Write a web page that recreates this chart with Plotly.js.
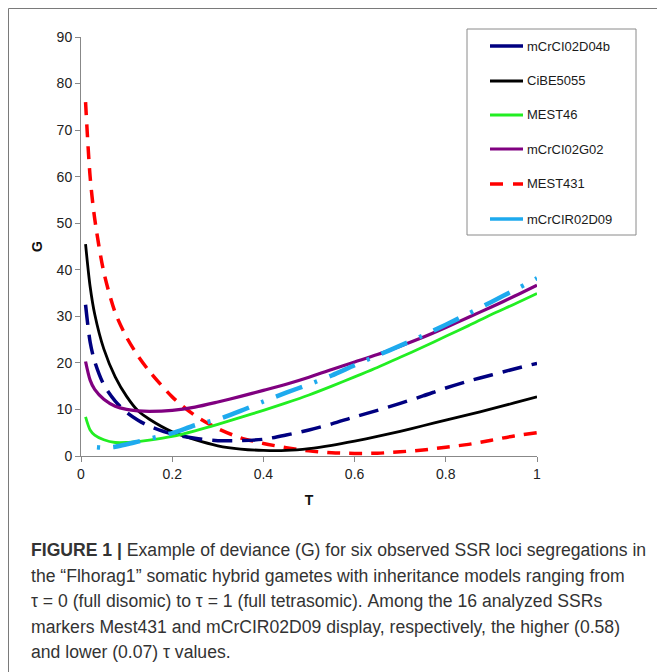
<!DOCTYPE html>
<html>
<head>
<meta charset="utf-8">
<script src="https://cdn.plot.ly/plotly-3.0.1.min.js"></script>
<style>html,body{margin:0;padding:0;background:#fff;}#chart{width:657px;height:672px;}</style>
</head>
<body>
<div id="chart"></div>
<script>
// ---- data ----
var tau = [0.01, 0.02, 0.03, 0.05, 0.075, 0.1, 0.125, 0.15, 0.2, 0.25, 0.3, 0.35, 0.4, 0.45, 0.5, 0.55, 0.6, 0.65, 0.7, 0.75, 0.8, 0.85, 0.9, 0.95, 1.0];
var mCrCI02D04b = [32.5, 24.5, 20.3, 15.3, 11.8, 9.4, 7.7, 6.4, 4.7, 3.8, 3.3, 3.3, 3.6, 4.5, 5.6, 6.9, 8.4, 9.8, 11.3, 12.9, 14.6, 16.1, 17.4, 18.7, 19.9];
var CiBE5055    = [45.5, 36.4, 30.5, 23.0, 17.0, 12.8, 9.7, 7.9, 5.2, 3.5, 2.2, 1.5, 1.2, 1.2, 1.6, 2.3, 3.2, 4.2, 5.3, 6.5, 7.7, 8.9, 10.1, 11.4, 12.7];
var MEST46      = [8.4, 5.6, 4.5, 3.5, 2.9, 2.9, 3.1, 3.4, 4.2, 5.4, 6.8, 8.3, 9.8, 11.4, 13.1, 15.0, 17.0, 19.0, 21.2, 23.4, 25.7, 28.0, 30.4, 32.6, 34.9];
var mCrCI02G02  = [20.3, 16.3, 14.3, 12.2, 10.7, 10.0, 9.7, 9.6, 9.8, 10.5, 11.6, 12.8, 14.1, 15.4, 16.9, 18.6, 20.2, 21.8, 23.6, 25.5, 27.6, 29.8, 32.0, 34.3, 36.7];
var MEST431     = [76.0, 60.0, 51.0, 39.5, 30.8, 25.5, 21.5, 18.2, 12.7, 8.7, 5.9, 3.9, 2.7, 1.8, 1.1, 0.7, 0.55, 0.6, 0.9, 1.3, 1.9, 2.5, 3.4, 4.3, 5.0];
var tauD09      = [0.035, 0.05, 0.075, 0.1, 0.125, 0.15, 0.2, 0.25, 0.3, 0.35, 0.4, 0.45, 0.5, 0.55, 0.6, 0.65, 0.7, 0.75, 0.8, 0.85, 0.9, 0.95, 1.0];
var mCrCIR02D09 = [1.9, 1.8, 2.0, 2.5, 3.1, 3.7, 4.9, 6.6, 7.9, 9.7, 11.7, 13.6, 15.4, 17.3, 19.5, 21.6, 23.7, 25.9, 28.2, 30.6, 33.1, 35.6, 38.2];
var seriesNames = ["mCrCI02D04b", "CiBE5055", "MEST46", "mCrCI02G02", "MEST431", "mCrCIR02D09"];
var xTickVals = [0, 0.2, 0.4, 0.6, 0.8, 1];
var xTickText = ["0", "0.2", "0.4", "0.6", "0.8", "1"];
var yTickVals = [0, 10, 20, 30, 40, 50, 60, 70, 80, 90];
var captionLines = [
  "<b>FIGURE 1 |</b> Example of deviance (G) for six observed SSR loci segregations in",
  "the \u201cFlhorag1\u201d somatic hybrid gametes with inheritance models ranging from",
  "\u03c4 = 0 (full disomic) to \u03c4 = 1 (full tetrasomic). Among the 16 analyzed SSRs",
  "markers Mest431 and mCrCIR02D09 display, respectively, the higher (0.58)",
  "and lower (0.07) \u03c4 values."
];

// ---- styles ----
var styles = [
  {color: "#000080", width: 3.5, dash: "20px,10px"},
  {color: "#000000", width: 2.8, dash: "solid"},
  {color: "#22ee22", width: 2.8, dash: "solid"},
  {color: "#800080", width: 3.2, dash: "solid"},
  {color: "#ff0000", width: 3.5, dash: "13px,9px"},
  {color: "#1eaaee", width: 4.5, dash: "3px,13px,28px,13px"}
];
var xs = [tau, tau, tau, tau, tau, tauD09];
var ys = [mCrCI02D04b, CiBE5055, MEST46, mCrCI02G02, MEST431, mCrCIR02D09];
var drawOrder = [4, 1, 0, 3, 2, 5];
var traces = drawOrder.map(function (i) {
  return {
    x: xs[i], y: ys[i], name: seriesNames[i], type: "scatter", mode: "lines",
    line: {color: styles[i].color, width: styles[i].width, dash: styles[i].dash, shape: "spline", smoothing: 0.8},
    showlegend: false, hoverinfo: "x+y+name"
  };
});

// ---- pixel helpers for layout decorations ----
var L = 81, T = 37, W = 456, H = 419;
function px(x) { return (x - L) / W; }
function py(y) { return (T + H - y) / H; }

var FONT = "Liberation Sans, Arial, sans-serif";
var shapes = [];
var annotations = [];

// outer frame (left and top edges)
shapes.push({type: "line", xref: "paper", yref: "paper", x0: px(8.5), x1: px(8.5), y0: py(8.5), y1: py(672), line: {color: "#7a7a7a", width: 1}});
shapes.push({type: "line", xref: "paper", yref: "paper", x0: px(8.5), x1: px(657), y0: py(8.5), y1: py(8.5), line: {color: "#7a7a7a", width: 1}});

// legend box
shapes.push({type: "rect", xref: "paper", yref: "paper", x0: px(467), x1: px(636), y0: py(235), y1: py(29), line: {color: "#8a8a8a", width: 1}, fillcolor: "rgba(255,255,255,0)"});
var legendY = [46, 81, 115, 149, 184, 219];
var legendDash = ["solid", "solid", "solid", "solid", "13px,10px", "solid"];
for (var k = 0; k < seriesNames.length; k++) {
  shapes.push({type: "line", xref: "paper", yref: "paper", x0: px(490), x1: px(523), y0: py(legendY[k]), y1: py(legendY[k]),
    line: {color: styles[k].color, width: Math.min(styles[k].width, 3.5), dash: legendDash[k]}});
  annotations.push({xref: "paper", yref: "paper", x: px(525), y: py(legendY[k]), xanchor: "left", yanchor: "middle",
    text: seriesNames[k], showarrow: false, font: {family: FONT, size: 13, color: "#1a1a1a"}});
}

// caption
var capY = [550, 575.5, 601, 626.5, 652];
for (var c = 0; c < captionLines.length; c++) {
  annotations.push({xref: "paper", yref: "paper", x: px(29), y: py(capY[c]), xanchor: "left", yanchor: "middle", align: "left",
    text: captionLines[c], showarrow: false, font: {family: "Liberation Sans, Arial, sans-serif", size: 17.6, color: "#333333"}});
}

var layout = {
  width: 657, height: 672,
  margin: {l: L, r: 657 - L - W, t: T, b: 672 - T - H, pad: 0},
  paper_bgcolor: "#ffffff", plot_bgcolor: "#ffffff",
  showlegend: false,
  font: {family: FONT, size: 14, color: "#222222"},
  xaxis: {
    range: [0, 1], tickvals: xTickVals, ticktext: xTickText, showgrid: false, zeroline: false,
    showline: true, linecolor: "#888888", linewidth: 1, ticks: "outside", ticklen: 5, tickcolor: "#888888",
    tickfont: {family: FONT, size: 14, color: "#222222"},
    title: {text: "<b>T</b>", font: {family: FONT, size: 14, color: "#111111"}, standoff: 14},
    automargin: false
  },
  yaxis: {
    range: [0, 90], tickvals: yTickVals, showgrid: false, zeroline: false,
    showline: true, linecolor: "#888888", linewidth: 1, ticks: "outside", ticklen: 5, tickcolor: "#888888",
    tickfont: {family: FONT, size: 14, color: "#222222"},
    title: {text: "<b>G</b>", font: {family: FONT, size: 14, color: "#111111"}, standoff: 10},
    automargin: false
  },
  shapes: shapes,
  annotations: annotations
};

Plotly.newPlot("chart", traces, layout, {displayModeBar: false, staticPlot: true});
</script>
</body>
</html>
